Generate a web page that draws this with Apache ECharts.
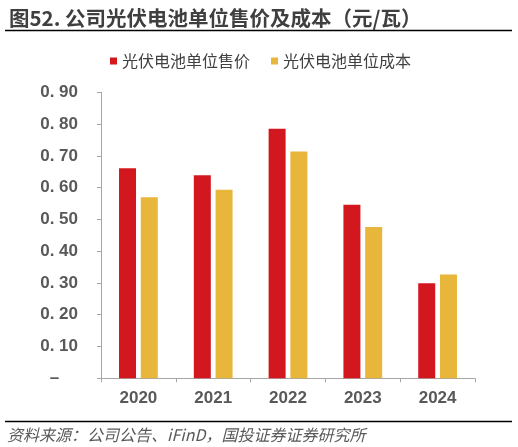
<!DOCTYPE html>
<html>
<head>
<meta charset="utf-8">
<script src="https://cdn.jsdelivr.net/npm/echarts@6/dist/echarts.min.js"></script>
<style>
html,body{margin:0;padding:0;background:#fff;}
#main{width:518px;height:447px;}
</style>
</head>
<body>
<div id="main"></div>
<script>
var categories = ['2020', '2021', '2022', '2023', '2024'];
var seriesNames = ['光伏电池单位售价', '光伏电池单位成本'];
var priceValues = [0.661, 0.639, 0.785, 0.546, 0.299];
var costValues = [0.570, 0.593, 0.714, 0.476, 0.327];
var yTickLabels = ['–    ', '0. 10', '0. 20', '0. 30', '0. 40', '0. 50', '0. 60', '0. 70', '0. 80', '0. 90'];
var titleText = '图52. 公司光伏电池单位售价及成本（元/瓦）';
var sourceText = '资料来源：公司公告、iFinD，国投证券证券研究所';

var chart = echarts.init(document.getElementById('main'), null, {renderer: 'canvas'});
var cjk = '"Noto Sans CJK SC", sans-serif';
var latin = 'Arial, "Liberation Sans", sans-serif';
chart.setOption({
  animation: false,
  backgroundColor: '#fff',
  title: {
    text: titleText,
    left: 4, top: 3,
    textStyle: {fontFamily: cjk, fontSize: 20.5, fontWeight: 'bold', color: '#3f3f3f'}
  },
  graphic: [
    {type: 'line', shape: {x1: 5, y1: 30.5, x2: 512, y2: 30.5}, style: {stroke: '#000', lineWidth: 1.3}},
    {type: 'line', shape: {x1: 5, y1: 421.5, x2: 512, y2: 421.5}, style: {stroke: '#000', lineWidth: 1.3}},
    {type: 'text', left: 7, top: 427, style: {text: sourceText, font: 'italic 16px "Noto Sans CJK SC", sans-serif', fill: '#595959'}}
  ],
  legend: {
    data: seriesNames,
    top: 48, left: 105,
    itemWidth: 7, itemHeight: 7, itemGap: 21,
    icon: 'rect',
    textStyle: {fontFamily: cjk, fontSize: 16, color: '#404040', padding: [0, 0, 0, 0]}
  },
  grid: {left: 101, right: 43, top: 92.3, bottom: 68.7, containLabel: false},
  xAxis: {
    type: 'category',
    data: categories,
    axisLine: {lineStyle: {color: '#a6a6a6', width: 1}},
    axisTick: {show: true, length: 4, lineStyle: {color: '#a6a6a6'}},
    axisLabel: {fontFamily: latin, fontSize: 17, fontWeight: 'bold', color: '#595959', margin: 12}
  },
  yAxis: {
    type: 'value',
    min: 0, max: 0.9, interval: 0.1,
    axisLine: {show: true, lineStyle: {color: '#a6a6a6', width: 1}},
    axisTick: {show: true, length: 4, lineStyle: {color: '#a6a6a6'}},
    splitLine: {show: false},
    axisLabel: {
      fontFamily: latin, fontSize: 17, fontWeight: 'bold', color: '#595959', margin: 23,
      formatter: function (v) { return yTickLabels[Math.round(v * 10)]; }
    }
  },
  series: [
    {name: seriesNames[0], type: 'bar', data: priceValues, barWidth: 17, barGap: '28%',
     itemStyle: {color: '#D2171F'}},
    {name: seriesNames[1], type: 'bar', data: costValues, barWidth: 17,
     itemStyle: {color: '#E8B63B'}}
  ]
});
</script>
</body>
</html>
